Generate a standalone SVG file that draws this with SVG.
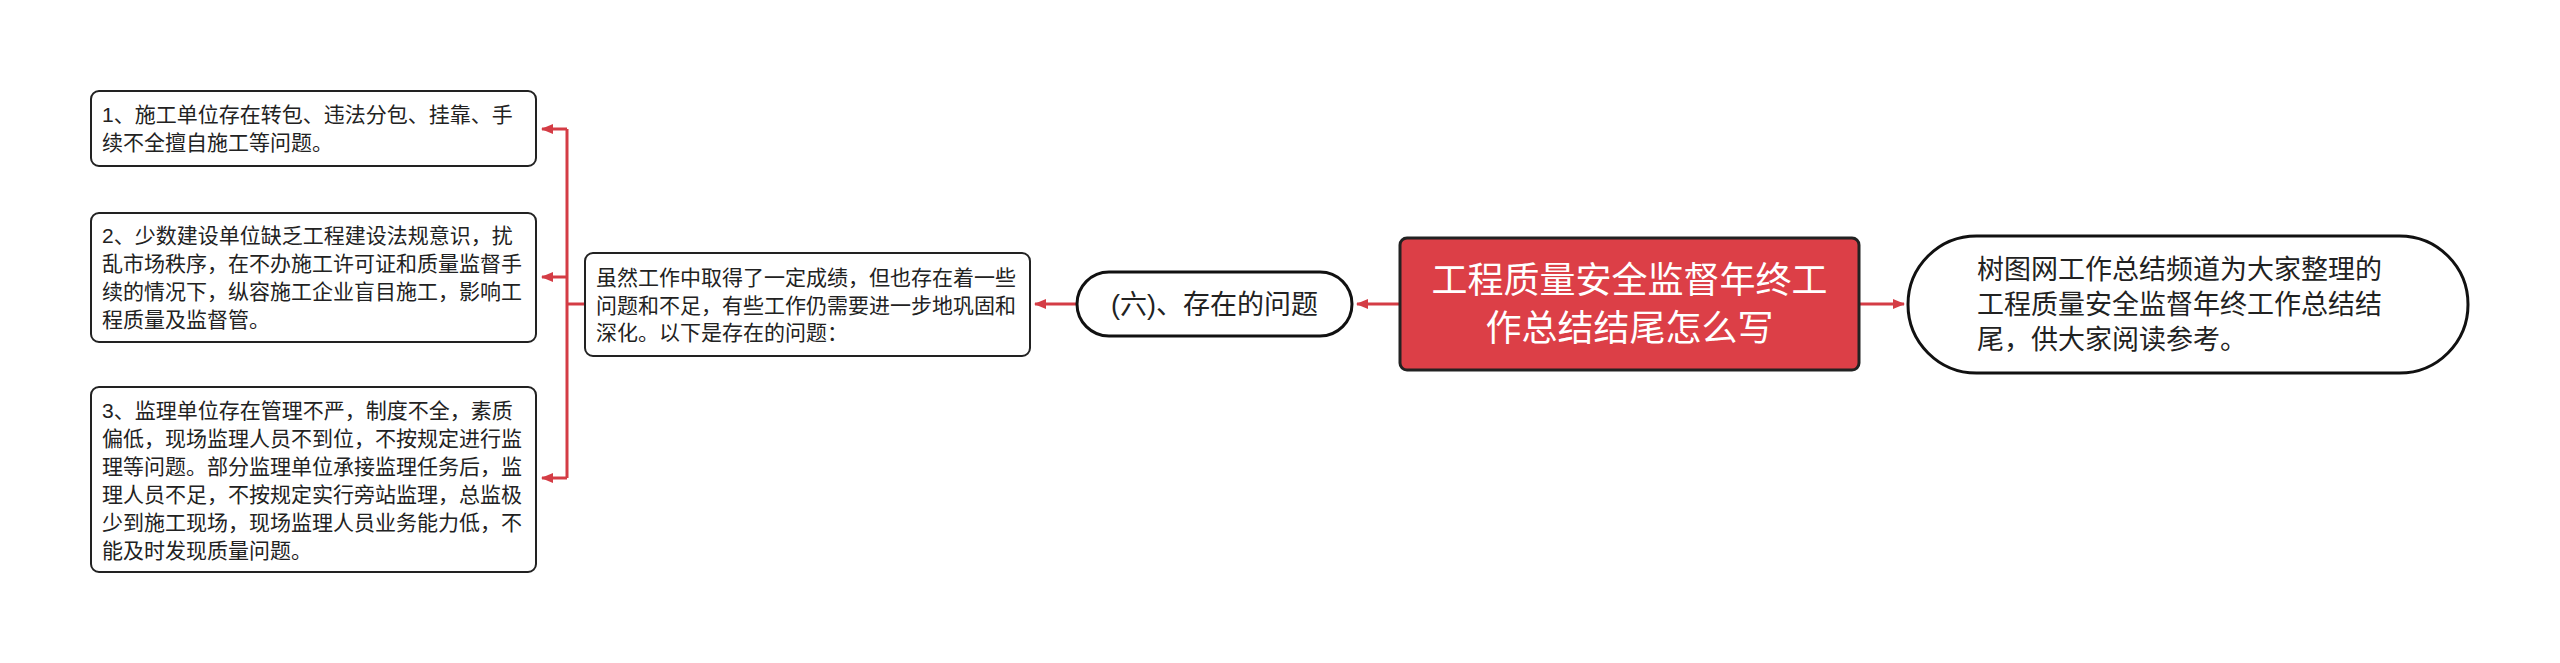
<svg xmlns="http://www.w3.org/2000/svg" width="2560" height="663" viewBox="0 0 2560 663">
  <style>
    text { font-family: 'Liberation Sans', 'Noto Sans CJK SC', sans-serif; fill: #222; }
    .box { fill: #fff; stroke: #222; stroke-width: 2; }
    .pill { fill: #fff; stroke: #111; stroke-width: 3; }
    .root { fill: #dc3f47; stroke: #222; stroke-width: 3; }
    .t21 { font-size: 21px; }
    .t27 { font-size: 27px; }
    .rt { font-size: 36px; fill: #fff; text-anchor: middle; }
    .conn { fill: none; stroke: #d43c45; stroke-width: 3; }
  </style>
  <defs>
    <marker id="arr" viewBox="0 0 12 10" refX="11" refY="5" markerWidth="12" markerHeight="10" markerUnits="userSpaceOnUse" orient="auto">
      <path d="M0,0 L12,5 L0,10 Z" fill="#d43c45"/>
    </marker>
  </defs>
  <rect width="2560" height="663" fill="#fff"/>

  <g id="connectors">
    <line class="conn" x1="1400" y1="304" x2="1357" y2="304" marker-end="url(#arr)"/>
    <line class="conn" x1="1859" y1="304" x2="1904" y2="304" marker-end="url(#arr)"/>
    <line class="conn" x1="1077" y1="304" x2="1035" y2="304" marker-end="url(#arr)"/>
    <path class="conn" d="M585,304 H567"/>
    <path class="conn" d="M567,129 V478"/>
    <path class="conn" d="M567,129 H542" marker-end="url(#arr)"/>
    <path class="conn" d="M567,277 H542" marker-end="url(#arr)"/>
    <path class="conn" d="M567,478 H542" marker-end="url(#arr)"/>
  </g>

  <g id="root">
    <rect class="root" x="1400" y="238" width="459" height="132" rx="7"/>
    <text class="rt" x="1629.5" y="292.5">工程质量安全监督年终工</text>
    <text class="rt" x="1629.5" y="340.5">作总结结尾怎么写</text>
  </g>

  <g id="summary">
    <rect class="pill" x="1908" y="236" width="560" height="137" rx="68.5"/>
    <text class="t27" x="1977" y="279">树图网工作总结频道为大家整理的</text>
    <text class="t27" x="1977" y="314">工程质量安全监督年终工作总结结</text>
    <text class="t27" x="1977" y="349">尾，供大家阅读参考。</text>
  </g>

  <g id="problems">
    <rect class="pill" x="1077" y="272" width="275" height="64" rx="32"/>
    <text class="t27" x="1214.5" y="314" text-anchor="middle">(六)、存在的问题</text>
  </g>

  <g id="detail">
    <rect class="box" x="585" y="253" width="445" height="103" rx="8"/>
    <text class="t21" x="596" y="285">虽然工作中取得了一定成绩，但也存在着一些</text>
    <text class="t21" x="596" y="312.5">问题和不足，有些工作仍需要进一步地巩固和</text>
    <text class="t21" x="596" y="340">深化。以下是存在的问题：</text>
  </g>

  <g id="item1">
    <rect class="box" x="91" y="91" width="445" height="75" rx="8"/>
    <text class="t21" x="102" y="122">1、施工单位存在转包、违法分包、挂靠、手</text>
    <text class="t21" x="102" y="150">续不全擅自施工等问题。</text>
  </g>

  <g id="item2">
    <rect class="box" x="91" y="213" width="445" height="129" rx="8"/>
    <text class="t21" x="102" y="243">2、少数建设单位缺乏工程建设法规意识，扰</text>
    <text class="t21" x="102" y="271">乱市场秩序，在不办施工许可证和质量监督手</text>
    <text class="t21" x="102" y="299">续的情况下，纵容施工企业盲目施工，影响工</text>
    <text class="t21" x="102" y="327">程质量及监督管。</text>
  </g>

  <g id="item3">
    <rect class="box" x="91" y="387" width="445" height="185" rx="8"/>
    <text class="t21" x="102" y="418">3、监理单位存在管理不严，制度不全，素质</text>
    <text class="t21" x="102" y="446">偏低，现场监理人员不到位，不按规定进行监</text>
    <text class="t21" x="102" y="474">理等问题。部分监理单位承接监理任务后，监</text>
    <text class="t21" x="102" y="502">理人员不足，不按规定实行旁站监理，总监极</text>
    <text class="t21" x="102" y="530">少到施工现场，现场监理人员业务能力低，不</text>
    <text class="t21" x="102" y="558">能及时发现质量问题。</text>
  </g>
</svg>
